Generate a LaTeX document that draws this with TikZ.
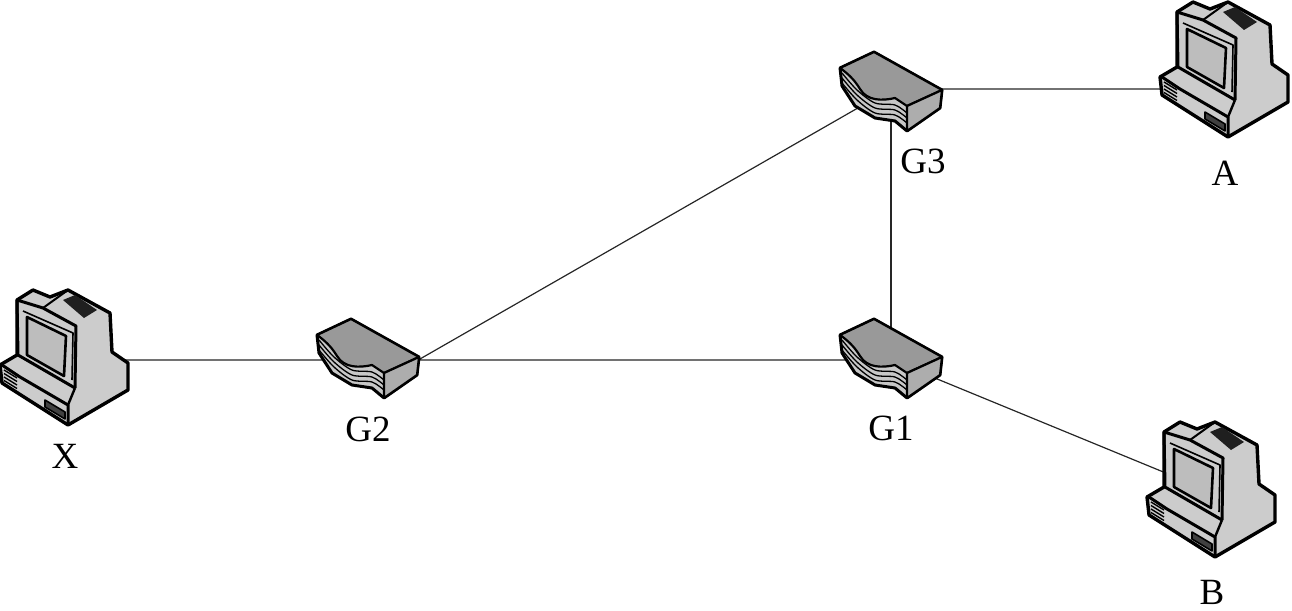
\documentclass[tikz,border=0pt]{standalone}
\usepackage{fontspec}
\setmainfont{Liberation Serif}
\usetikzlibrary{positioning}
\definecolor{bodygray}{gray}{0.80}
\definecolor{screengray}{gray}{0.74}
\definecolor{topgray}{gray}{0.60}
\definecolor{sidegray}{gray}{0.68}
\definecolor{frontgray}{gray}{0.78}
\tikzset{
  computer/.pic={
    \begin{scope}[shift={(-65,-80)},line join=round]
      \draw[line width=3.4pt,fill=bodygray] (17,20) -- (33,10) -- (50,17) -- (68,10) -- (110,33) -- (112,72)
        -- (128,83) -- (128,110) -- (68,145) -- (2,103) -- (0,85) -- (17,75) -- cycle;
      \fill[black!88] (63,20) -- (75,15) -- (97,30) -- (84,38) -- cycle;
      \draw[line width=3pt] (17,20) -- (43,28) -- (76,46) -- (75,108);
      \draw[line width=3pt] (17,20) -- (18,75) -- (75,108);
      \draw[line width=2pt] (43,28) -- (68,10);
      \draw[line width=2.6pt,fill=screengray] (27,37) -- (66,56) -- (64,96) -- (27,75) -- cycle;
      \draw[line width=1.6pt] (23,31) -- (73,53) -- (72,100);
      \draw[line width=3pt] (2,85) -- (20,97) -- (68,125) -- (68,145);
      \draw[line width=1.6pt,fill=black!75] (45,120) -- (65,132) -- (65,139) -- (45,127) -- cycle;
      \foreach \i in {0,1,2,3,4} {
        \draw[line width=1.4pt] (4,{90+3.5*\i}) -- (17,{98+3.5*\i});
      }
      \draw[line width=2.4pt] (68,125) -- (75,108);
    \end{scope}
  },
  router/.pic={
    \begin{scope}[shift={(-59,-50)},line join=round]
      \draw[line width=3pt,fill=frontgray] (8,25) -- (42,9) -- (110,47) -- (108,65) -- (75,88)
        -- (63,78) -- (43,75) -- (23,63) -- (10,43) -- cycle;
      \draw[line width=2.2pt,fill=topgray] (8,25) -- (42,9) -- (110,47) -- (75,63) -- (63,55)
        .. controls (50,58) and (35,58) .. (28,46) .. controls (22,36) and (15,30) .. (8,25) -- cycle;
      \draw[line width=2.2pt,fill=sidegray] (75,63) -- (110,47) -- (108,65) -- (75,88) -- cycle;
      \foreach \i in {5,10,15} {
        \draw[line width=1.3pt] plot[smooth] coordinates {(10,{25+\i}) (25,{42+\i}) (43,{55+\i}) (63,{57+\i}) (75,{65+\i})};
      }
    \end{scope}
  }
}
\begin{document}
\begin{tikzpicture}[
    x=1pt,y=-1pt,
    device/.style={minimum width=100pt, minimum height=70pt, inner sep=0pt},
    host/.style={minimum width=130pt, minimum height=140pt, inner sep=0pt},
    tag/.style={inner sep=0pt, font=\fontsize{37}{39}\selectfont},
    wire/.style={draw, line width=1.2pt, black!85}]
  \useasboundingbox (0,0) rectangle (1292,610);
  \node[host] (X) at (65,360) {};
  \node[device] (G2) at (368,360) {};
  \node[device] (G1) at (891,360) {};
  \node[device] (G3) at (891,89) {};
  \node[host] (A) at (1225,72) {};
  \node[host] (B) at (1212,492) {};
  \node[tag, below=14pt of X] (LX) {X};
  \node[tag, below=22pt of G2] (L2) {G2};
  \node[tag, below=21pt of G1] (L1) {G1};
  \node[tag, below=25pt of G3, xshift=32pt] (L3) {G3};
  \node[tag, below=19pt of A] (LA) {A};
  \node[tag, below=18pt of B] (LB) {B};
  \path[wire]
      (X.center) -- (G2.center)
      (G2.center) -- (G1.center)
      (G2.east) -- (G3.center)
      (G3.east) -- (G3.east -| A.center)
      (G1.center) -- (B.center);
  \path[wire, line width=2pt] (G3.center) -- (G1.center);
  \pic at (X.center) {computer};
  \pic at (A.center) {computer};
  \pic at (B.center) {computer};
  \pic at (G2.center) {router};
  \pic at (G1.center) {router};
  \pic[yshift=-4pt] at (G3.center) {router};
\end{tikzpicture}
\end{document}
